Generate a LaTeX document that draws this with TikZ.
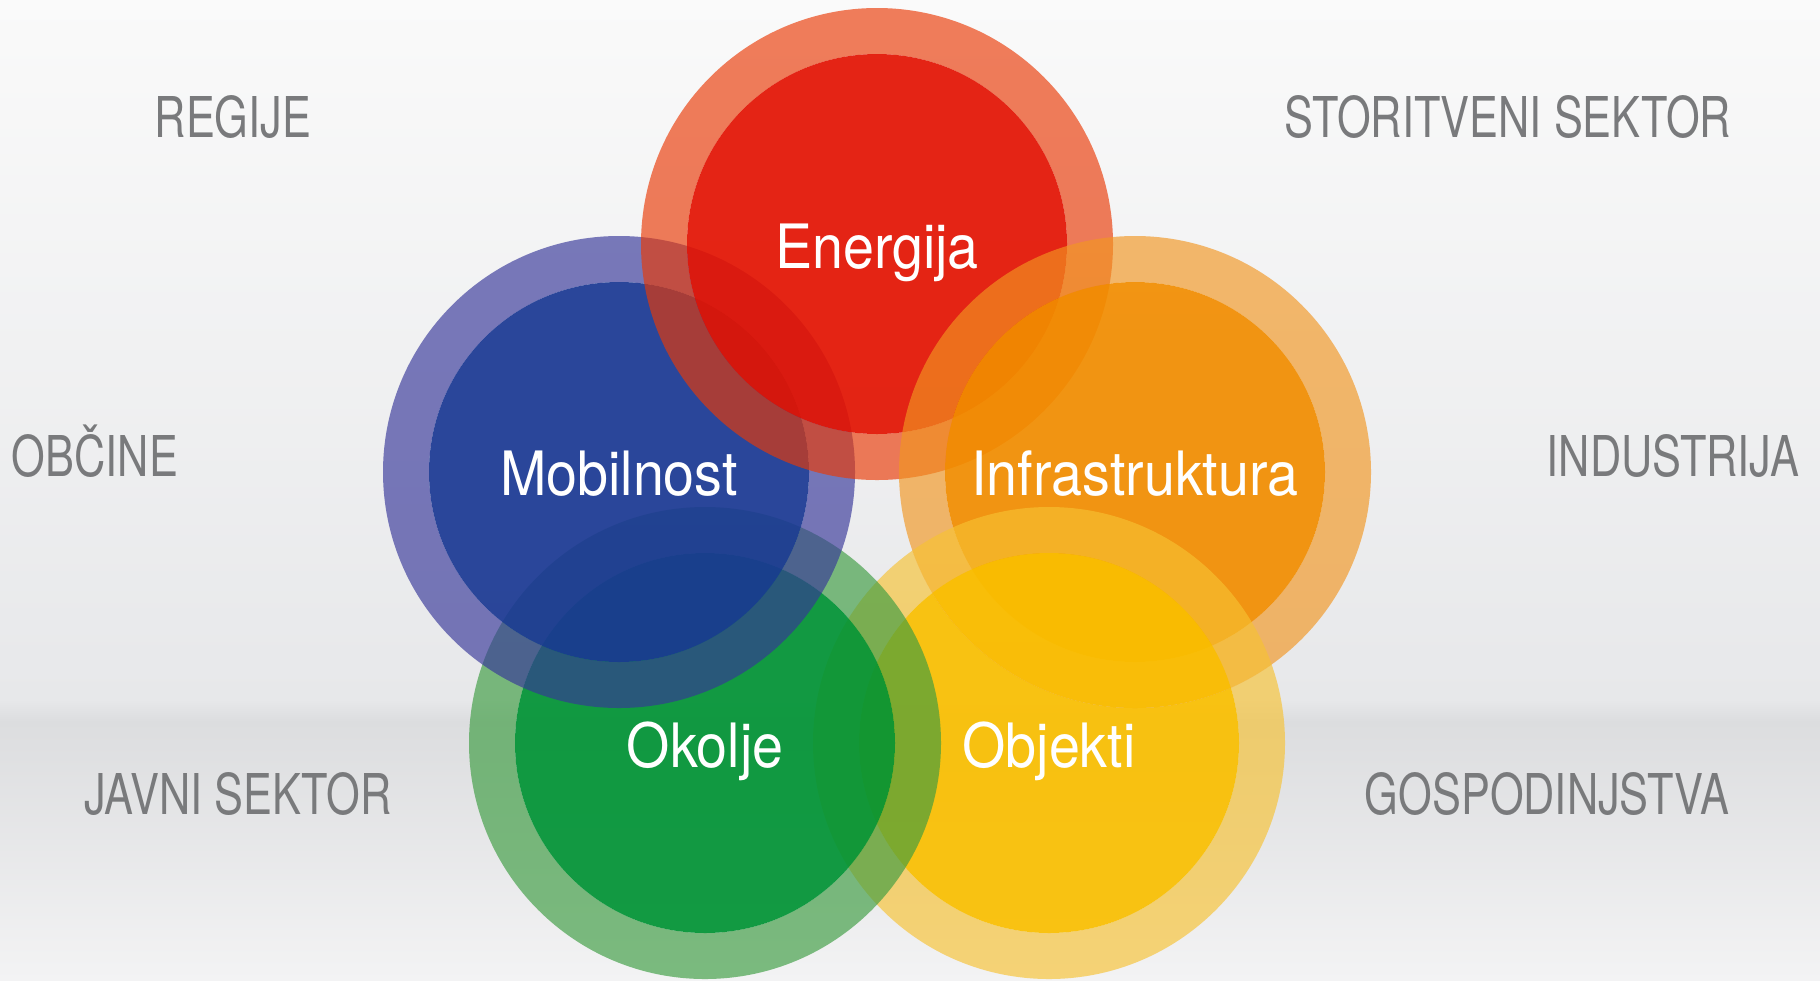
\documentclass[tikz,border=0pt]{standalone}
\usepackage{fontspec}
\newfontfamily\graylab[FakeStretch=0.77]{TeX Gyre Heros}
\newfontfamily\whitelab[FakeStretch=0.91]{TeX Gyre Heros}
\definecolor{labgray}{HTML}{797A7C}
\definecolor{ringR}{HTML}{EA3905}
\definecolor{coreR}{HTML}{E31302}
\definecolor{ringB}{HTML}{363699}
\definecolor{coreB}{HTML}{1A3893}
\definecolor{ringO}{HTML}{F29621}
\definecolor{coreO}{HTML}{F28D00}
\definecolor{ringG}{HTML}{3B9C40}
\definecolor{coreG}{HTML}{009334}
\definecolor{ringY}{HTML}{F7C232}
\definecolor{coreY}{HTML}{FABF00}
\definecolor{bgA}{HTML}{FAFAFA}
\definecolor{bgB}{HTML}{E7E8EA}
\definecolor{bgC}{HTML}{DCDDDF}
\definecolor{bgD}{HTML}{F3F3F4}
\tikzset{
  ringpart/.style={fill=#1, fill opacity=0.65, even odd rule},
  corepart/.style={fill=#1, fill opacity=0.92},
  sector/.style={text=labgray, font=\graylab\fontsize{16}{19}\selectfont, anchor=base, inner sep=0pt},
  topic/.style={text=white, font=\whitelab\fontsize{17.4}{20}\selectfont, anchor=base, inner sep=0pt}
}
\newcommand\bubbledisk[3]{%
  \fill[ringpart=#2] (#1) circle[radius=23.6mm] (#1) circle[radius=19mm];
  \fill[corepart=#3] (#1) circle[radius=19mm];
}
\begin{document}
\begin{tikzpicture}[x=0.1mm, y=-0.1mm]
\useasboundingbox (0,0) rectangle (1820,980);
% background
\shade[top color=bgA, bottom color=bgB] (0,0) rectangle (1820,700);
\shade[top color=bgB, bottom color=bgC] (0,699) rectangle (1820,722);
\shade[top color=bgC, bottom color=bgD] (0,721) rectangle (1820,980);
% circle centres
\coordinate (cE) at (877,244);
\coordinate (cM) at (619,472);
\coordinate (cI) at (1135,472);
\coordinate (cO) at (705,743);
\coordinate (cB) at (1049,743);
% circles: cyclic overlap, bottom to top: yellow, green, blue, red, orange, yellow
\begin{scope}[even odd rule]
  \clip (0,0) rectangle (1820,980) (cI) circle[radius=23.6mm];
  \bubbledisk{cB}{ringY}{coreY}
\end{scope}
\bubbledisk{cO}{ringG}{coreG}
\bubbledisk{cM}{ringB}{coreB}
\bubbledisk{cE}{ringR}{coreR}
\bubbledisk{cI}{ringO}{coreO}
\begin{scope}
  \clip (cI) circle[radius=23.6mm];
  \bubbledisk{cB}{ringY}{coreY}
\end{scope}
% topic labels
\node[topic] (tE) at (877,268) {Energija};
\node[topic] (tM) at (619,495) {Mobilnost};
\node[topic] (tI) at (1135,495) {Infrastruktura};
\node[topic] (tO) at (705,767) {Okolje};
\node[topic] (tB) at (1049,767) {Objekti};
% sector labels
\node[sector] (regije) at (233,137) {REGIJE};
\node[sector] (obcine) at (95,476) {OBČINE};
\node[sector] (javni) at (238,814) {JAVNI SEKTOR};
\node[sector] (storitve) at (1508,137) {STORITVENI SEKTOR};
\node[sector] (industrija) at (1673,476) {INDUSTRIJA};
\node[sector] (gosp) at (1547,814) {GOSPODINJSTVA};
\end{tikzpicture}
\end{document}
